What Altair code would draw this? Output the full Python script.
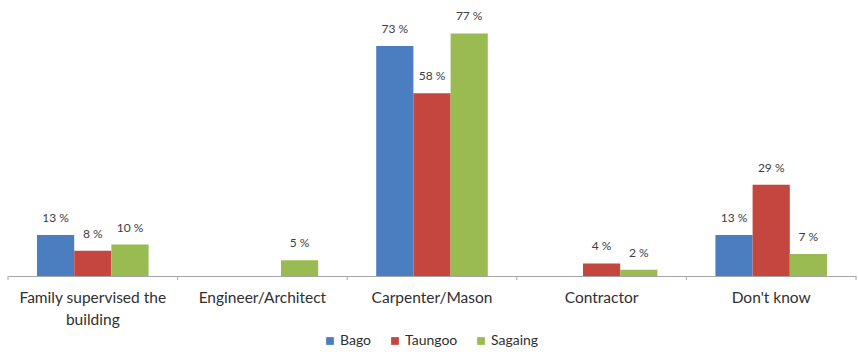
import altair as alt
import pandas as pd

# Who supervised the building of the house, by region (% of households)
categories = ["Family supervised the building", "Engineer/Architect",
              "Carpenter/Mason", "Contractor", "Don't know"]
regions = ["Bago", "Taungoo", "Sagaing"]
bago = [13, None, 73, None, 13]
taungoo = [8, None, 58, 4, 29]
sagaing = [10, 5, 77, 2, 7]
colors = ["#4A7EC0", "#C4463F", "#9ABB52"]

rows = []
for region, series in zip(regions, [bago, taungoo, sagaing]):
    for cat, v in zip(categories, series):
        if v is not None:
            rows.append({"category": cat, "region": region, "value": v,
                         "label": f"{v} %"})
df = pd.DataFrame(rows)

font = "Lato"
text_color = "#303030"
x_enc = alt.X("category:N", sort=categories, title=None,
              scale=alt.Scale(paddingInner=0, paddingOuter=0),
              axis=alt.Axis(ticks=False, domainColor="#A6A6A6", domainWidth=1.2,
                            labelAngle=0, labelFont=font, labelFontSize=15.5,
                            labelColor=text_color, labelPadding=14,
                            labelLineHeight=22,
                            labelExpr="datum.label == 'Family supervised the building' ? ['Family supervised the', 'building'] : datum.label"))
y_enc = alt.Y("value:Q", scale=alt.Scale(domain=[0, 80]), axis=None)
off_enc = alt.XOffset("region:N", sort=regions,
                      scale=alt.Scale(domain=regions, paddingOuter=0.78, paddingInner=0))

bars = alt.Chart(df).mark_bar().encode(
    x=x_enc, y=y_enc, xOffset=off_enc,
    color=alt.Color("region:N", sort=regions,
                    scale=alt.Scale(domain=regions, range=colors),
                    legend=alt.Legend(title=None, orient="none", direction="horizontal",
                                      legendX=315, legendY=310,
                                      symbolType="square", symbolSize=60,
                                      symbolStrokeWidth=0, columnPadding=16,
                                      labelFont=font, labelFontSize=14,
                                      labelColor=text_color, labelOffset=3)),
)

labels = alt.Chart(df).mark_text(baseline="bottom", dy=-10, font=font, fontSize=12,
                                 color="#404040").encode(
    x=alt.X("category:N", sort=categories), y="value:Q", xOffset=off_enc,
    text="label:N",
)

# short tick marks at the category boundaries
bounds = pd.DataFrame({"category": categories})
ticks = alt.Chart(bounds).mark_rule(color="#A6A6A6", strokeWidth=1).encode(
    x=alt.X("category:N", sort=categories, bandPosition=0),
    y=alt.value(252), y2=alt.value(256),
)
end_tick = alt.Chart(bounds.head(1)).mark_rule(color="#A6A6A6", strokeWidth=1).encode(
    x=alt.value(848), y=alt.value(252), y2=alt.value(256),
)

chart = alt.layer(bars, labels, ticks, end_tick).properties(
    width=848, height=252,
    autosize=alt.AutoSizeParams(type="none"),
    padding={"left": 8, "top": 24, "right": 2, "bottom": 80},
).configure(background="white").configure_view(stroke=None)

chart.save("out.html", embed_options={"renderer": "svg", "actions": False})
